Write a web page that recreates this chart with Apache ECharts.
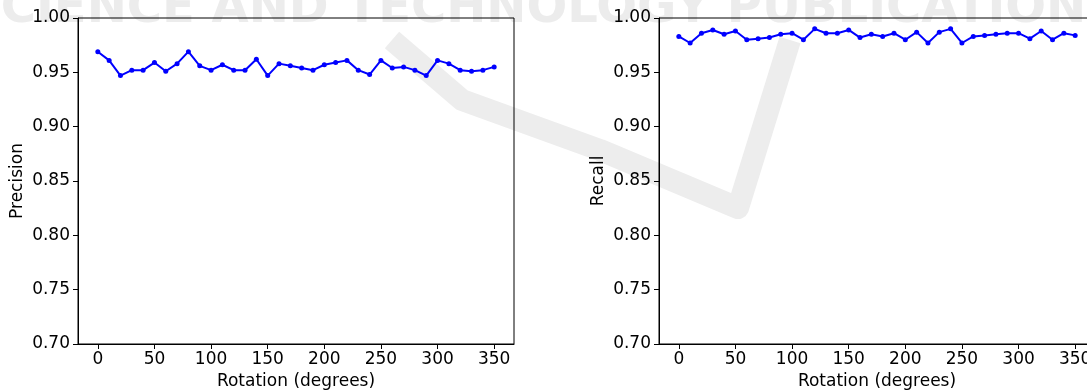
<!DOCTYPE html>
<html>
<head>
<meta charset="utf-8">
<script src="https://cdn.jsdelivr.net/npm/echarts@6/dist/echarts.min.js"></script>
<style>
  html, body { margin: 0; padding: 0; background: #fff; }
  #chart { width: 1087px; height: 391px; }
</style>
</head>
<body>
<div id="chart"></div>
<script>
// rotation angles (degrees)
const rotation = [0, 10, 20, 30, 40, 50, 60, 70, 80, 90, 100, 110, 120, 130, 140, 150, 160, 170,
  180, 190, 200, 210, 220, 230, 240, 250, 260, 270, 280, 290, 300, 310, 320, 330, 340, 350];

const precision = [0.969, 0.961, 0.947, 0.952, 0.952, 0.959, 0.951, 0.958, 0.969, 0.956, 0.952, 0.957,
  0.952, 0.952, 0.962, 0.947, 0.958, 0.956, 0.954, 0.952, 0.957, 0.959, 0.961, 0.952,
  0.948, 0.961, 0.954, 0.955, 0.952, 0.947, 0.961, 0.958, 0.952, 0.951, 0.952, 0.955];

const recall = [0.983, 0.977, 0.986, 0.989, 0.985, 0.988, 0.980, 0.981, 0.982, 0.985, 0.986, 0.980,
  0.990, 0.986, 0.986, 0.989, 0.982, 0.985, 0.983, 0.986, 0.980, 0.987, 0.977, 0.987,
  0.990, 0.977, 0.983, 0.984, 0.985, 0.986, 0.986, 0.981, 0.988, 0.980, 0.986, 0.984];

const xTicks = [0, 50, 100, 150, 200, 250, 300, 350];
const yTicks = [0.70, 0.75, 0.80, 0.85, 0.90, 0.95, 1.00];

const font = 'DejaVu Sans';
const fs = 17;

function xAxis(idx) {
  return {
    gridIndex: idx, type: 'value', min: -17.5, max: 367.5,
    name: 'Rotation (degrees)', nameLocation: 'middle', nameGap: 28,
    nameTextStyle: { fontFamily: font, fontSize: fs, color: '#000' },
    axisLine: { show: true, onZero: false, lineStyle: { color: '#000', width: 1 } },
    axisTick: { show: true, length: 5, lineStyle: { color: '#000' }, customValues: xTicks },
    axisLabel: { fontFamily: font, fontSize: fs, color: '#000', margin: 7, customValues: xTicks },
    splitLine: { show: false }
  };
}

function yAxis(idx, name) {
  return {
    gridIndex: idx, type: 'value', min: 0.7, max: 1.0,
    name: name, nameLocation: 'middle', nameGap: 52,
    nameTextStyle: { fontFamily: font, fontSize: fs, color: '#000' },
    axisLine: { show: true, onZero: false, lineStyle: { color: '#000', width: 1 } },
    axisTick: { show: true, length: 5, lineStyle: { color: '#000' }, customValues: yTicks },
    axisLabel: { fontFamily: font, fontSize: fs, color: '#000', margin: 8,
      customValues: yTicks, formatter: v => v.toFixed(2) },
    splitLine: { show: false }
  };
}

function line(idx, values) {
  return {
    type: 'line', xAxisIndex: idx, yAxisIndex: idx,
    data: rotation.map((r, i) => [r, values[i]]),
    symbol: 'circle', symbolSize: 5, showSymbol: true,
    lineStyle: { color: '#0000ff', width: 2 },
    itemStyle: { color: '#0000ff' },
    animation: false, z: 3
  };
}

const chart = echarts.init(document.getElementById('chart'), null, { renderer: 'canvas' });
chart.setOption({
  backgroundColor: '#fff',
  animation: false,
  grid: [
    { left: 78, top: 18, width: 436, height: 326, outerBoundsMode: 'none', containLabel: false,
      show: true, borderColor: '#000', borderWidth: 1, backgroundColor: 'transparent' },
    { left: 659, top: 18, width: 436, height: 326, outerBoundsMode: 'none', containLabel: false,
      show: true, borderColor: '#000', borderWidth: 1, backgroundColor: 'transparent' }
  ],
  xAxis: [xAxis(0), xAxis(1)],
  yAxis: [yAxis(0, 'Precision'), yAxis(1, 'Recall')],
  series: [line(0, precision), line(1, recall)],
  graphic: [
    {
      type: 'text', left: 'center', top: -14, z: -10, silent: true,
      style: { text: 'SCIENCE AND TECHNOLOGY PUBLICATIONS', fill: '#ececec',
        font: 'bold 48px "DejaVu Sans"' }
    },
    {
      type: 'polyline', z: -10, silent: true,
      shape: { points: [[392, 40], [462, 100], [600, 150], [738, 208], [790, 40]], smooth: 0 },
      style: { stroke: '#ededed', lineWidth: 22, fill: null, lineJoin: 'round' }
    }
  ]
});
</script>
</body>
</html>
